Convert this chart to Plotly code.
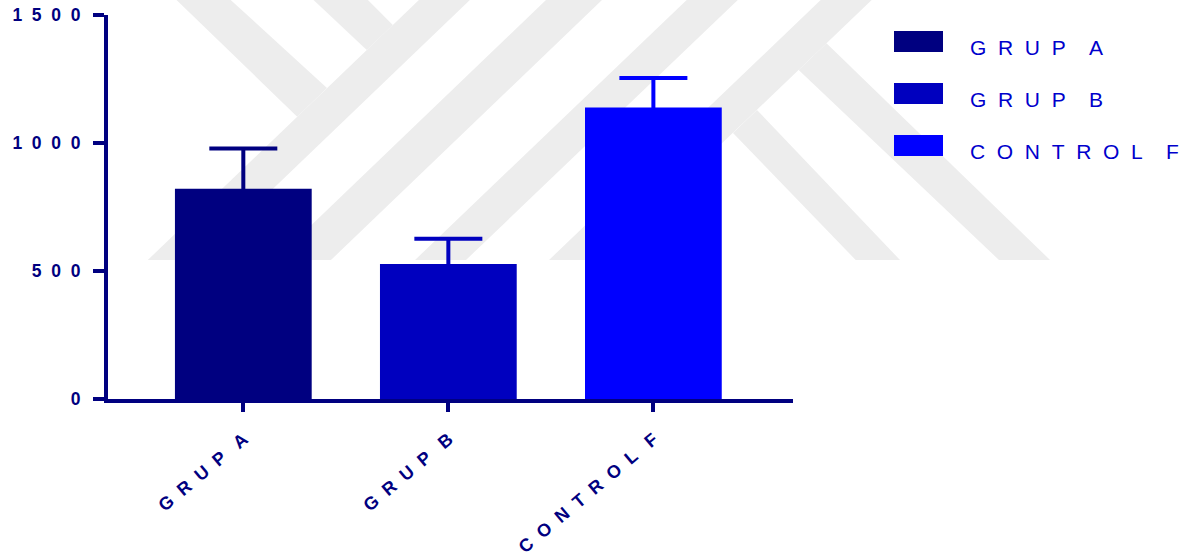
import plotly.graph_objects as go

# Group means and standard errors
categories = ["GRUP A", "GRUP B", "CONTROL F"]
means = [821, 527, 1139]
errors = [158, 99, 115]
colors = ["#000080", "#0000BF", "#0000FF"]
y_ticks = [0, 500, 1000, 1500]

NAVY = "#000080"
LEGEND_BLUE = "#0000CC"
FONT = "Liberation Sans, Arial, sans-serif"

W, H = 1185, 557
ML, MR, MT, MB = 108, 392, 15, 158
PW, PH = W - ML - MR, H - MT - MB


def spread(text, gap=2, word_gap=3):
    """Widen letter spacing with non-breaking spaces."""
    nb = "\u00a0"
    return (nb * word_gap).join((nb * gap).join(w) for w in text.split(" "))


def to_paper(x, y):
    return (x - ML) / PW, (H - MB - y) / PH


def poly(points):
    pts = [to_paper(x, y) for x, y in points]
    return "M " + " L ".join(f"{a:.4f},{b:.4f}" for a, b in pts) + " Z"


fig = go.Figure()

# the lower half of each error bar sits inside its bar (same colour), so only
# the upper whisker shows
for cat, m, e, c in zip(categories, means, errors, colors):
    fig.add_trace(go.Bar(
        x=[cat], y=[m],
        marker=dict(color=c, line=dict(width=0)),
        error_y=dict(type="data", array=[e], symmetric=True,
                     color=c, thickness=4, width=34),
        name=cat, showlegend=False,
    ))

shapes = []

# faint background emblem
emblem = [
    [(418.9, 0), (469.9, 0), (198.8, 260), (147.8, 260)],
    [(176.5, 0), (230.7, 0), (327, 88), (297.2, 116.7)],
    [(313.6, 0), (367.9, 0), (392.8, 25), (366.8, 50)],
    [(546, 0), (602, 0), (331, 260), (275, 260)],
    [(686.7, 0), (737.8, 0), (466, 260), (415, 260)],
    [(820.7, 0), (871.7, 0), (600, 260), (549, 260)],
    [(733, 133), (757, 110), (900, 260), (855.7, 260)],
    [(798.7, 70), (826.5, 43.3), (1050, 260), (999, 260)],
]
for pts in emblem:
    shapes.append(dict(type="path", xref="paper", yref="paper", path=poly(pts),
                       fillcolor="#EDEDED", line=dict(width=0), layer="below"))

# legend swatches and labels
annotations = []
for i, (cat, c) in enumerate(zip(categories, colors)):
    top = 31 + 52 * i
    x0, y0 = to_paper(894, top + 21)
    x1, y1 = to_paper(943, top)
    shapes.append(dict(type="rect", xref="paper", yref="paper",
                       x0=x0, x1=x1, y0=y0, y1=y1,
                       fillcolor=c, line=dict(width=0)))
    tx, ty = to_paper(968, top + 16)
    annotations.append(dict(xref="paper", yref="paper", x=tx, y=ty,
                            xanchor="left", yanchor="middle", showarrow=False,
                            text=spread(cat, 2, 4),
                            font=dict(family=FONT, size=21, color=LEGEND_BLUE)))

fig.update_layout(
    width=W, height=H,
    margin=dict(l=ML, r=MR, t=MT, b=MB, pad=0, autoexpand=False),
    paper_bgcolor="white",
    plot_bgcolor="rgba(0,0,0,0)",
    barmode="overlay",
    bargap=0.333,
    shapes=shapes,
    annotations=annotations,
    showlegend=False,
    xaxis=dict(
        type="category",
        automargin=False,
        range=[-0.66, 2.681],
        showline=True, linecolor=NAVY, linewidth=4,
        ticks="outside", ticklen=9, tickwidth=4, tickcolor=NAVY,
        tickmode="array", tickvals=categories,
        ticktext=[spread(c) for c in categories],
        tickangle=-40,
        tickfont=dict(family=FONT, size=18, color=NAVY, weight="bold"),
        ticklabelstandoff=10,
        showgrid=False, zeroline=False,
    ),
    yaxis=dict(
        automargin=False,
        range=[0, 1500],
        showline=True, linecolor=NAVY, linewidth=4,
        ticks="outside", ticklen=11, tickwidth=4, tickcolor=NAVY,
        tickmode="array", tickvals=y_ticks,
        ticktext=[spread(str(v)) for v in y_ticks],
        tickfont=dict(family=FONT, size=17.5, color=NAVY, weight="bold"),
        ticklabelstandoff=9,
        showgrid=False, zeroline=False,
    ),
)

fig.write_html("out.html")
